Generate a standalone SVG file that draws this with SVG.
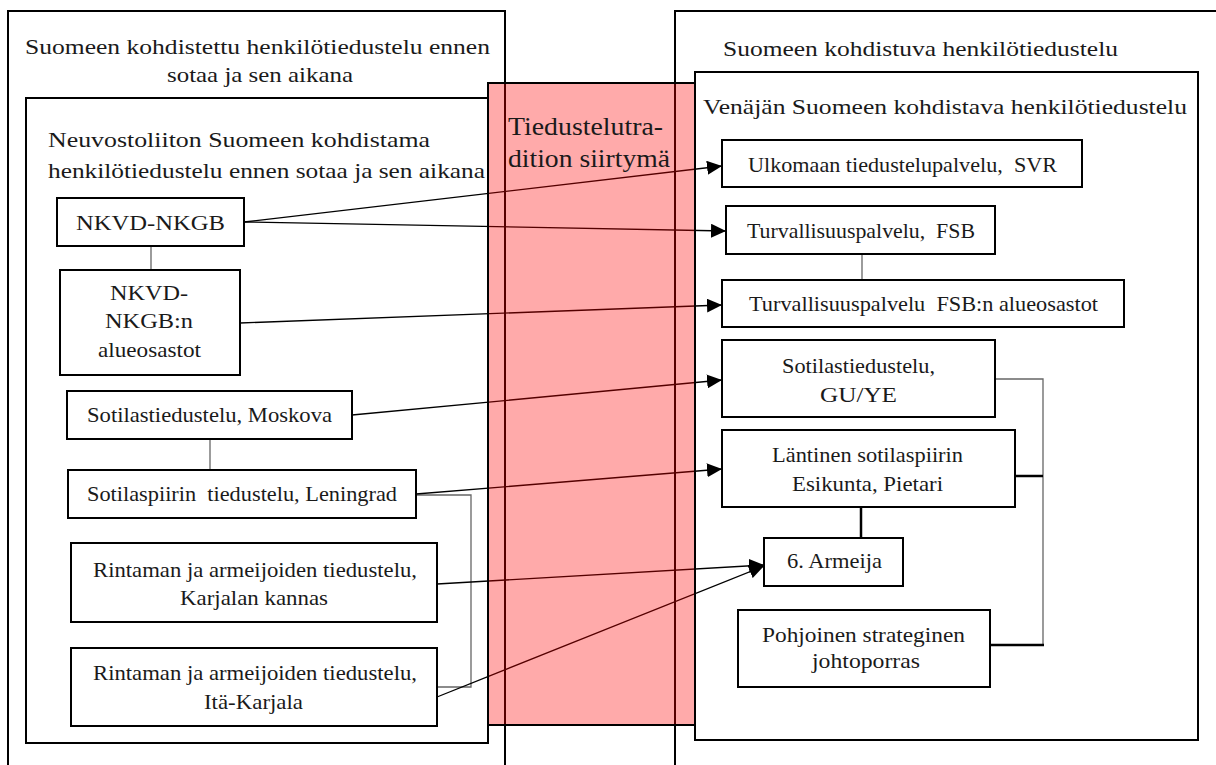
<svg xmlns="http://www.w3.org/2000/svg" width="1216" height="765" viewBox="0 0 1216 765" font-family="'Liberation Serif', 'DejaVu Serif', 'Noto Serif', Tinos, 'Times New Roman', serif">
<style>
text{fill:#1a1a1a;}
.t{font-size:22px;}
.n{font-size:21px;text-anchor:middle;}
.big{font-size:26px;}
.box{fill:none;stroke:#000;stroke-width:2;}
.node{fill:#fff;stroke:#000;stroke-width:2;}
.arr{stroke:#000;stroke-width:1.3;fill:none;marker-end:url(#ah);}
.grey{stroke:#666;stroke-width:1.3;fill:none;}
.blk{stroke:#000;stroke-width:2.5;fill:none;}
</style>
<defs>
<marker id="ah" markerUnits="userSpaceOnUse" markerWidth="16" markerHeight="14" refX="15" refY="7" orient="auto">
<path d="M0,0 L15,7 L0,14 Z" fill="#000"/>
</marker>
</defs>
<rect width="1216" height="765" fill="#fff"/>
<g id="group-left-outer">
<path class="box" d="M8,770 V11 H505 V770"/>
<text class="t" x="25" y="54" textLength="465" lengthAdjust="spacingAndGlyphs">Suomeen kohdistettu henkilötiedustelu ennen</text>
<text class="t" x="260" y="82" text-anchor="middle" textLength="186" lengthAdjust="spacingAndGlyphs">sotaa ja sen aikana</text>
</g>
<g id="group-right-outer">
<path class="box" d="M675,770 V11 H1222"/>
<text class="t" x="723" y="56" textLength="395" lengthAdjust="spacingAndGlyphs">Suomeen kohdistuva henkilötiedustelu</text>
</g>
<g id="group-left-inner">
<rect class="box" x="26" y="98" width="462" height="645"/>
<text class="t" x="48" y="147" textLength="382" lengthAdjust="spacingAndGlyphs">Neuvostoliiton Suomeen kohdistama</text>
<text class="t" x="48" y="178" textLength="437" lengthAdjust="spacingAndGlyphs">henkilötiedustelu ennen sotaa ja sen aikana</text>
</g>
<g id="group-right-inner">
<rect class="box" x="695" y="72" width="503" height="668"/>
<text class="t" x="703" y="114" textLength="484" lengthAdjust="spacingAndGlyphs">Venäjän Suomeen kohdistava henkilötiedustelu</text>
</g>
<g id="connectors">
<line class="grey" x1="151" y1="246" x2="151" y2="270"/>
<line class="grey" x1="210" y1="439" x2="210" y2="470"/>
<path class="grey" d="M416,495 H471 V687 H437"/>
<line class="grey" x1="862" y1="254" x2="862" y2="280"/>
<path class="grey" d="M995,379 H1043 V645"/>
<line class="blk" x1="990" y1="645" x2="1044" y2="645"/>
<line class="blk" x1="1015" y1="476" x2="1043" y2="476"/>
<line class="blk" x1="861" y1="507" x2="861" y2="538"/>
<line class="arr" x1="244" y1="222" x2="722" y2="166"/>
<line class="arr" x1="244" y1="222" x2="726" y2="231"/>
<line class="arr" x1="240" y1="323" x2="722" y2="305"/>
<line class="arr" x1="352" y1="415" x2="722" y2="380"/>
<line class="arr" x1="416" y1="494" x2="722" y2="469"/>
<line class="arr" x1="437" y1="584" x2="764" y2="565"/>
<line class="arr" x1="437" y1="697" x2="764" y2="566"/>
</g>
<g id="node-nkvd">
<rect class="node" x="57" y="198" width="187" height="48"/>
<text class="n" x="150.5" y="230" textLength="149" lengthAdjust="spacingAndGlyphs">NKVD-NKGB</text>
</g>
<g id="node-nkvd-alue">
<rect class="node" x="60" y="270" width="180" height="105"/>
<text class="n" x="149" y="300" textLength="78" lengthAdjust="spacingAndGlyphs">NKVD-</text>
<text class="n" x="149" y="328" textLength="88" lengthAdjust="spacingAndGlyphs">NKGB:n</text>
<text class="n" x="149.5" y="357" textLength="103" lengthAdjust="spacingAndGlyphs">alueosastot</text>
</g>
<g id="node-moskova">
<rect class="node" x="67" y="391" width="285" height="48"/>
<text class="n" x="209.5" y="422" textLength="245" lengthAdjust="spacingAndGlyphs">Sotilastiedustelu, Moskova</text>
</g>
<g id="node-leningrad">
<rect class="node" x="68" y="470" width="348" height="48"/>
<text class="n" x="242" y="501" textLength="310" lengthAdjust="spacingAndGlyphs" xml:space="preserve">Sotilaspiirin  tiedustelu, Leningrad</text>
</g>
<g id="node-kannas">
<rect class="node" x="71" y="543" width="366" height="79"/>
<text class="n" x="255" y="577" textLength="324" lengthAdjust="spacingAndGlyphs">Rintaman ja armeijoiden tiedustelu,</text>
<text class="n" x="254" y="605" textLength="148" lengthAdjust="spacingAndGlyphs">Karjalan kannas</text>
</g>
<g id="node-itakarjala">
<rect class="node" x="71" y="648" width="366" height="78"/>
<text class="n" x="255" y="680" textLength="324" lengthAdjust="spacingAndGlyphs">Rintaman ja armeijoiden tiedustelu,</text>
<text class="n" x="253.5" y="709" textLength="99" lengthAdjust="spacingAndGlyphs">Itä-Karjala</text>
</g>
<g id="node-svr">
<rect class="node" x="722" y="140" width="360" height="47"/>
<text class="n" x="902.5" y="172" textLength="309" lengthAdjust="spacingAndGlyphs" xml:space="preserve">Ulkomaan tiedustelupalvelu,  SVR</text>
</g>
<g id="node-fsb">
<rect class="node" x="726" y="206" width="269" height="48"/>
<text class="n" x="861" y="238" textLength="228" lengthAdjust="spacingAndGlyphs" xml:space="preserve">Turvallisuuspalvelu,  FSB</text>
</g>
<g id="node-fsb-alue">
<rect class="node" x="722" y="280" width="402" height="47"/>
<text class="n" x="923.5" y="311" textLength="349" lengthAdjust="spacingAndGlyphs" xml:space="preserve">Turvallisuuspalvelu  FSB:n alueosastot</text>
</g>
<g id="node-gu">
<rect class="node" x="722" y="340" width="273" height="77"/>
<text class="n" x="858.5" y="373" textLength="153" lengthAdjust="spacingAndGlyphs">Sotilastiedustelu,</text>
<text class="n" x="858.5" y="402" textLength="77" lengthAdjust="spacingAndGlyphs">GU/YE</text>
</g>
<g id="node-lantinen">
<rect class="node" x="722" y="430" width="293" height="77"/>
<text class="n" x="867.5" y="462" textLength="191" lengthAdjust="spacingAndGlyphs">Läntinen sotilaspiirin</text>
<text class="n" x="867.5" y="491" textLength="151" lengthAdjust="spacingAndGlyphs">Esikunta, Pietari</text>
</g>
<g id="node-armeija">
<rect class="node" x="764" y="538" width="139" height="48"/>
<text class="n" x="834.5" y="568" textLength="95" lengthAdjust="spacingAndGlyphs">6. Armeija</text>
</g>
<g id="node-pohjoinen">
<rect class="node" x="738" y="610" width="252" height="77"/>
<text class="n" x="863.5" y="642" textLength="203" lengthAdjust="spacingAndGlyphs">Pohjoinen strateginen</text>
<text class="n" x="866" y="668" textLength="108" lengthAdjust="spacingAndGlyphs">johtoporras</text>
</g>
<g id="node-siirtyma">
<rect x="488" y="83" width="207" height="642" fill="#ff0000" fill-opacity="0.333" stroke="#000" stroke-width="2"/>
<text class="big" x="508" y="135" textLength="155" lengthAdjust="spacingAndGlyphs">Tiedustelutra-</text>
<text class="big" x="508" y="167" textLength="162" lengthAdjust="spacingAndGlyphs">dition siirtymä</text>
</g>
</svg>
